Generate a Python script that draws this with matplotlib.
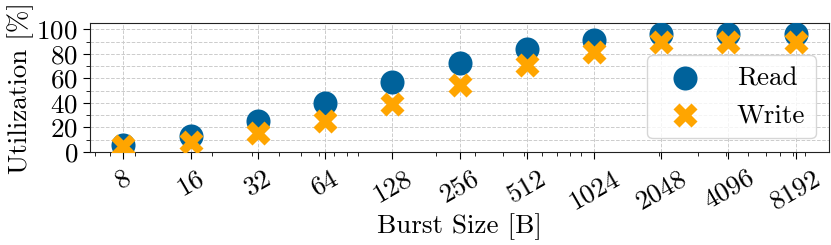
import matplotlib
matplotlib.use("Agg")
import matplotlib.pyplot as plt
from matplotlib.ticker import MultipleLocator

burst_sizes = [8, 16, 32, 64, 128, 256, 512, 1024, 2048, 4096, 8192]
read_util = [6.0, 12.8, 25.3, 40.0, 57.2, 72.7, 84.2, 91.3, 95.9, 96.0, 96.0]
write_util = [4.5, 8.2, 15.5, 25.3, 38.7, 54.5, 70.8, 81.7, 89.9, 90.0, 90.0]
tick_labels = [str(b) for b in burst_sizes]

plt.rcParams['font.family'] = 'serif'
plt.rcParams['font.serif'] = ['cmr10']
plt.rcParams['mathtext.fontset'] = 'cm'
plt.rcParams['axes.formatter.use_mathtext'] = True
plt.rcParams['axes.unicode_minus'] = False

FS = 19.5

fig = plt.figure(figsize=(8.31, 2.45), dpi=100)
ax = fig.add_axes([0.108, 0.38, 0.89, 0.525])

ax.scatter(burst_sizes, read_util, s=300, marker='o', color='#00629B', label='Read', zorder=3, linewidths=0)
ax.scatter(burst_sizes, write_util, s=300, marker='X', color='#FFA500', label='Write', zorder=4, linewidths=0)

ax.set_xscale('log')
ax.set_xticks(burst_sizes)
ax.set_xticklabels(tick_labels, rotation=30, ha='center')
ax.set_ylim(0, 105)
ax.yaxis.set_major_locator(MultipleLocator(20))
ax.yaxis.set_minor_locator(MultipleLocator(10))

ax.grid(which='major', axis='x', linestyle='--', color='#cccccc', linewidth=0.7)
ax.grid(which='both', axis='y', linestyle='--', color='#cccccc', linewidth=0.7)
ax.set_axisbelow(True)

ax.tick_params(axis='both', which='major', labelsize=FS, length=5)
ax.tick_params(axis='x', which='major', pad=5)
ax.tick_params(axis='both', which='minor', length=3)
ax.set_xlabel('Burst Size [B]', fontsize=FS, labelpad=0)
ax.set_ylabel('Utilization [%]', fontsize=FS, labelpad=2)
for s in ax.spines.values():
    s.set_color('#222222')

ax.legend(loc='lower right', fontsize=FS, handletextpad=0.9, framealpha=0.8)

fig.savefig('out.png', dpi=100)
